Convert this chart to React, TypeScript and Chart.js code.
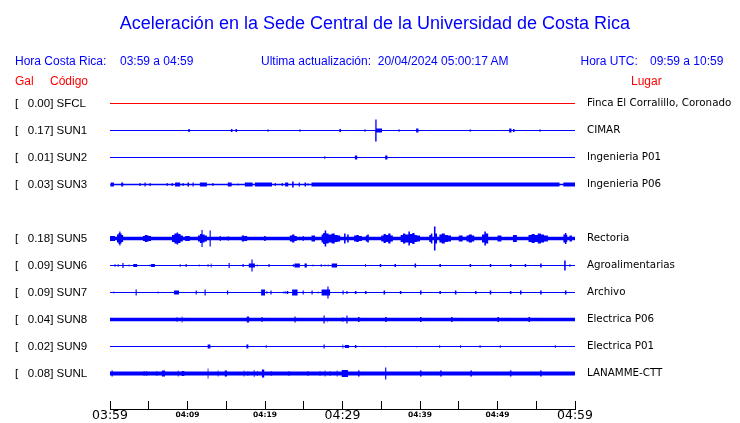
import { useEffect, useRef } from 'react';
import { Chart, registerables } from 'chart.js';

Chart.register(...registerables);

type Burst = [number, number, number]; // [start minute, end minute, half amplitude]

// ---------- data ----------
const titleText = 'Aceleración en la Sede Central de la Universidad de Costa Rica';
const localLabel = 'Hora Costa Rica:';
const localRange = '03:59 a 04:59';
const updatedText = 'Ultima actualización:  20/04/2024 05:00:17 AM';
const utcLabel = 'Hora UTC:';
const utcRange = '09:59 a 10:59';

const stationCodes = ['SFCL', 'SUN1', 'SUN2', 'SUN3', 'SUN5', 'SUN6', 'SUN7', 'SUN8', 'SUN9', 'SUNL'];
const stationSlots = [0, 1, 2, 3, 5, 6, 7, 8, 9, 10];
const peakGal = [0.0, 0.17, 0.01, 0.03, 0.18, 0.09, 0.09, 0.04, 0.02, 0.08];
const places = [
  'Finca El Corralillo, Coronado',
  'CIMAR',
  'Ingenieria P01',
  'Ingenieria P06',
  'Rectoria',
  'Agroalimentarias',
  'Archivo',
  'Electrica P06',
  'Electrica P01',
  'LANAMME-CTT',
];
const baseNoise = [0.5, 0.5, 0.5, 0.85, 1.8, 0.5, 0.5, 1.7, 0.5, 2.0];

const burstsSFCL: Burst[] = [];
const burstsSUN1: Burst[] = [
  [10.1, 10.3, 1.5], [15.6, 15.8, 1.5], [16.2, 16.4, 1.5], [20.3, 20.5, 1], [24.4, 24.6, 1],
  [29.6, 29.8, 1.5], [32.8, 33.0, 1], [34.2, 35.1, 2], [34.25, 34.4, 11], [37.2, 37.4, 1],
  [39.5, 39.8, 2], [46.4, 46.6, 1], [51.5, 51.8, 2], [52.0, 52.2, 1.5], [55.4, 55.6, 1],
];
const burstsSUN2: Burst[] = [[27.6, 27.8, 1], [31.6, 31.9, 2], [35.5, 35.8, 2]];
const burstsSUN3: Burst[] = [
  [0.1, 0.5, 2], [1.45, 1.7, 2], [3.8, 3.95, 1.5], [4.45, 4.6, 2], [5.1, 5.25, 1.5],
  [7.3, 7.45, 1.5], [7.95, 8.1, 1.5], [8.4, 9.05, 2], [9.35, 9.5, 1.5], [10.0, 10.2, 2],
  [10.65, 10.8, 2], [11.6, 12.5, 2], [13.2, 13.35, 1.5], [15.2, 15.7, 2], [16.45, 16.6, 1],
  [17.4, 18.4, 2], [18.7, 20.9, 2], [21.25, 21.4, 1.5], [22.15, 22.3, 1.5], [22.6, 23.0, 2],
  [23.5, 23.7, 3], [24.35, 24.5, 2], [25.1, 25.3, 2], [25.5, 25.6, 1.5], [26.0, 58.0, 2],
  [58.5, 60, 2],
];
const burstsSUN5: Burst[] = [
  [0, 0.65, 2.5], [0.9, 1.1, 4], [1.1, 1.2, 5.5], [1.2, 1.35, 7], [1.35, 1.5, 5], [1.5, 1.7, 3.5],
  [4.25, 4.5, 2.5], [4.5, 4.8, 3.5], [4.8, 5.0, 3], [5.0, 5.3, 2.5],
  [8.0, 8.3, 3.5], [8.3, 8.6, 5], [8.6, 8.8, 6], [8.8, 9.1, 4.5], [9.1, 9.4, 3],
  [9.7, 10.3, 2.5], [11.35, 11.6, 3], [11.6, 11.8, 4.5], [11.8, 11.95, 8.5], [11.95, 12.2, 4],
  [12.2, 12.5, 3], [12.85, 13.0, 8], [14.15, 14.3, 2.5], [15.2, 15.3, 2.5], [17.0, 17.3, 3],
  [17.3, 17.7, 2.5], [19.9, 20.1, 2.5], [23.2, 23.5, 3], [23.5, 23.8, 4], [23.8, 24.1, 2.5],
  [24.85, 25.0, 2.5], [26.0, 26.45, 3], [27.3, 27.5, 4], [27.5, 27.7, 5.5], [27.7, 27.9, 8],
  [27.9, 28.2, 5], [28.2, 28.6, 4], [28.6, 29.0, 5], [29.0, 29.4, 3.5], [29.4, 29.7, 3],
  [30.2, 30.4, 5], [30.6, 30.8, 4],
  [31.5, 31.8, 3], [31.8, 32.1, 3.5], [32.1, 32.5, 2.5], [33.0, 33.2, 3], [33.2, 33.4, 4],
  [35.0, 35.3, 3], [35.3, 35.6, 4.5], [35.6, 35.9, 3.5], [35.9, 36.2, 5], [36.2, 36.5, 3],
  [37.5, 37.8, 3.5], [37.8, 38.1, 5], [38.1, 38.5, 4], [38.5, 38.7, 7], [38.7, 39.0, 4.5],
  [39.0, 39.3, 5.5], [39.3, 39.6, 3.5], [39.6, 40.0, 3], [41.2, 41.4, 3.5], [41.4, 41.6, 5],
  [41.8, 42.0, 12], [42.0, 42.2, 5], [42.5, 42.8, 4], [42.8, 43.2, 5], [43.2, 43.6, 3.5],
  [43.6, 44.0, 3], [45.0, 45.5, 3], [46.0, 46.3, 3], [46.3, 46.7, 4], [46.7, 47.0, 3],
  [48.0, 48.3, 4], [48.3, 48.5, 7], [48.5, 48.8, 5], [50.0, 50.5, 3], [52.0, 52.5, 3.5],
  [54.0, 54.4, 3.5], [54.4, 54.8, 4.5], [54.8, 55.2, 3.5], [55.2, 55.6, 5], [55.6, 56.0, 4],
  [56.0, 56.5, 3], [58.5, 58.7, 4], [58.7, 58.9, 5.5], [58.9, 59.0, 3.5], [59.3, 59.6, 3],
];
const burstsSUN6: Burst[] = [
  [0.6, 0.7, 1.5], [1.0, 1.1, 1.5], [1.6, 1.75, 2.5], [2.4, 2.5, 1], [3.0, 3.5, 1.5],
  [5.1, 5.2, 1], [5.3, 5.8, 1.5], [9.0, 9.1, 1.5], [9.75, 9.9, 1.5], [11.45, 11.55, 1],
  [12.6, 12.7, 1.5], [13.0, 13.1, 2], [15.3, 15.45, 2.5], [17.1, 17.25, 1.5], [17.9, 18.7, 2],
  [18.25, 18.4, 6], [18.95, 19.05, 1], [20.45, 20.6, 1.5], [23.6, 23.7, 1.5], [23.8, 24.5, 2],
  [25.1, 25.4, 2], [26.15, 26.25, 1], [27.2, 27.3, 1.5], [27.7, 27.8, 1], [28.1, 28.2, 1],
  [28.6, 29.3, 2], [32.9, 33.0, 1.5], [34.8, 35.0, 1.5], [36.7, 36.9, 1.5], [39.3, 39.5, 2],
  [42.5, 42.7, 1.5], [46.4, 46.6, 1.5], [49.0, 49.2, 1.5], [51.6, 51.8, 1.5], [53.5, 53.7, 1.5],
  [55.5, 55.7, 2], [58.6, 58.8, 5], [59.3, 59.4, 1.5],
];
const burstsSUN7: Burst[] = [
  [0.45, 0.55, 1], [3.3, 3.45, 3], [6.15, 6.25, 1], [8.25, 8.9, 2], [11.05, 11.2, 2],
  [12.2, 12.35, 3], [15.1, 15.25, 2], [19.5, 20.0, 3], [20.2, 20.3, 1.5], [20.7, 20.85, 2],
  [22.3, 22.4, 1], [22.55, 22.65, 1.5], [22.8, 23.0, 1.5], [23.5, 24.2, 3], [24.85, 25.0, 2],
  [26.0, 26.15, 2], [26.8, 26.9, 1], [27.3, 28.4, 3], [28.05, 28.2, 6], [30.0, 30.15, 2],
  [30.5, 30.65, 1.5], [31.6, 31.8, 1.5], [32.9, 33.1, 1.5], [35.3, 35.5, 2], [37.4, 37.6, 1.5],
  [40.0, 40.2, 2], [42.5, 42.7, 1.5], [44.5, 44.7, 2], [47.1, 47.3, 1.5], [49.0, 49.2, 2],
  [51.6, 51.8, 1.5], [52.9, 53.1, 2], [55.5, 55.7, 2], [58.7, 58.9, 2],
];
const burstsSUN8: Burst[] = [
  [8.6, 8.7, 2.5], [9.25, 9.35, 3], [17.65, 17.95, 3], [19.55, 19.7, 2.5], [23.8, 23.95, 3],
  [27.55, 27.7, 4], [28.0, 28.1, 3.5], [30.0, 30.1, 2.5], [30.5, 30.65, 4], [32.0, 32.2, 2.5],
  [35.5, 35.7, 2.5], [40.0, 40.2, 2.5], [44.0, 44.2, 2.5], [50.0, 50.2, 2.5], [54.0, 54.2, 2.5],
];
const burstsSUN9: Burst[] = [
  [12.6, 12.95, 2], [17.6, 17.85, 2], [20.1, 20.2, 1.5], [27.55, 27.7, 2], [30.0, 30.1, 2],
  [30.3, 30.85, 1.5], [31.6, 31.8, 1.5], [35.5, 35.6, 1.5], [39.5, 39.6, 1.5], [42.5, 42.6, 1.5],
  [45.2, 45.3, 1.5], [47.7, 47.8, 1.5], [50.3, 50.4, 1.5], [57.4, 57.5, 1.5],
];
const burstsSUNL: Burst[] = [
  [0.2, 0.35, 3], [4.35, 4.45, 2.5], [4.7, 4.8, 2.5], [6.0, 6.1, 2.5], [6.7, 7.1, 3],
  [8.75, 8.85, 3], [9.25, 9.6, 2.5], [12.6, 12.7, 5], [13.9, 14.0, 3], [14.8, 15.1, 3],
  [17.25, 17.35, 3], [17.75, 17.85, 2.5], [18.55, 18.65, 3.5], [18.95, 19.05, 2.5], [19.6, 19.9, 4],
  [20.75, 20.85, 2.5], [23.05, 23.15, 2.5], [25.5, 25.6, 2.5], [27.05, 27.15, 2.5], [27.7, 27.8, 3],
  [28.35, 28.45, 2.5], [29.25, 29.35, 3], [29.9, 30.7, 3.5], [32.0, 32.2, 3], [35.5, 35.65, 6],
  [40.0, 40.2, 3], [42.6, 42.8, 3], [46.5, 46.7, 3], [51.6, 51.8, 3], [55.5, 55.7, 3],
];
const stationBursts: Burst[][] = [
  burstsSFCL, burstsSUN1, burstsSUN2, burstsSUN3, burstsSUN5,
  burstsSUN6, burstsSUN7, burstsSUN8, burstsSUN9, burstsSUNL,
];
const traceColors = ['#ff0000', '#0000ff', '#0000ff', '#0000ff', '#0000ff', '#0000ff', '#0000ff', '#0000ff', '#0000ff', '#0000ff'];

const timeTickMinutes = [0, 10, 20, 30, 40, 50, 60];
const timeTickLabels = ['03:59', '04:09', '04:19', '04:29', '04:39', '04:49', '04:59'];
const minorTickStep = 5;
const windowMinutes = 60;

// amplitude units per slot spacing
const AMP_PER_SLOT = 27;

function envelope(slot: number, base: number, bursts: Burst[]) {
  const set = new Set<number>([0, windowMinutes]);
  bursts.forEach(([a, b]) => {
    set.add(Math.max(0, a));
    set.add(Math.min(windowMinutes, b));
  });
  const xs = Array.from(set).sort((a, b) => a - b);
  const amps: number[] = [];
  for (let k = 0; k < xs.length - 1; k++) {
    const m = (xs[k] + xs[k + 1]) / 2;
    let a = base;
    bursts.forEach(([s, e, h]) => {
      if (m >= s && m <= e && h > a) a = h;
    });
    amps.push(a);
  }
  const upper: { x: number; y: number }[] = [];
  const lower: { x: number; y: number }[] = [];
  for (let k = 0; k < amps.length; k++) {
    const d = amps[k] / AMP_PER_SLOT;
    upper.push({ x: xs[k], y: slot - d }, { x: xs[k + 1], y: slot - d });
  }
  for (let k = amps.length - 1; k >= 0; k--) {
    const d = amps[k] / AMP_PER_SLOT;
    lower.push({ x: xs[k + 1], y: slot + d }, { x: xs[k], y: slot + d });
  }
  return [...upper, ...lower];
}

const LEFT_FONT = 'Liberation Sans';

function Txt(props: { x: number; base: number; size: number; color: string; text: string; center?: boolean; w?: number }) {
  const { x, base, size, color, text, center, w } = props;
  return (
    <div
      style={{
        position: 'absolute',
        left: x,
        top: base - 0.8465 * size,
        width: w,
        fontFamily: LEFT_FONT + ', Arial, sans-serif',
        fontSize: size,
        lineHeight: size + 'px',
        color,
        whiteSpace: 'pre',
        textAlign: center ? 'center' : 'left',
        pointerEvents: 'none',
      }}
    >
      {text}
    </div>
  );
}

export default function App() {
  const ref = useRef<HTMLCanvasElement | null>(null);

  useEffect(() => {
    if (!ref.current) return;
    const yMin = -1 - 0.5 / 27;
    const yMax = 11 + 1 / 3 - 0.5 / 27;
    const slotTicks = (scale: any) => {
      scale.ticks = stationSlots.map((v) => ({ value: v }));
    };
    const datasets = stationCodes.map((code, i) => ({
      type: 'line' as const,
      label: code,
      data: envelope(stationSlots[i], baseNoise[i], stationBursts[i]),
      fill: 'shape' as const,
      backgroundColor: traceColors[i],
      borderColor: 'rgba(0,0,0,0)',
      borderWidth: 0,
      pointRadius: 0,
      tension: 0,
      yAxisID: 'y',
      xAxisID: 'x',
    }));

    const chart = new Chart(ref.current, {
      type: 'line',
      data: { datasets: datasets as any },
      options: {
        animation: false,
        responsive: false,
        events: [],
        layout: { padding: { left: 15, top: 76, right: 0, bottom: 0 } },
        plugins: { legend: { display: false }, tooltip: { enabled: false }, title: { display: false } },
        scales: {
          x: {
            type: 'linear',
            position: 'bottom',
            min: 0,
            max: windowMinutes,
            offset: false,
            afterBuildTicks: (scale: any) => {
              const t = [];
              for (let v = 0; v <= windowMinutes; v += minorTickStep) t.push({ value: v });
              scale.ticks = t;
            },
            afterFit: (scale: any) => {
              scale.height = 14;
              scale.paddingLeft = 0;
              scale.paddingRight = 0;
              scale.paddingTop = 0;
              scale.paddingBottom = 0;
            },
            grid: {
              display: true,
              drawOnChartArea: false,
              drawTicks: true,
              tickLength: -8,
              color: '#000000',
              tickColor: '#000000',
              lineWidth: 1,
            },
            border: { display: true, color: '#000000', width: 1 },
            ticks: {
              autoSkip: false,
              maxRotation: 0,
              minRotation: 0,
              padding: 7,
              color: '#000000',
              font: (ctx: any) => {
                const v = ctx.tick ? ctx.tick.value : 0;
                return v % 30 === 0
                  ? { family: 'DejaVu Sans', size: 12.5, weight: 'normal', lineHeight: 1.3 }
                  : { family: 'DejaVu Sans', size: 7.5, weight: 'bold', lineHeight: 1.9 };
              },
              callback: (value: any) => {
                const idx = timeTickMinutes.indexOf(Number(value));
                return idx >= 0 ? timeTickLabels[idx] : '';
              },
            },
          },
          y: {
            type: 'linear',
            position: 'left',
            reverse: true,
            min: yMin,
            max: yMax,
            afterBuildTicks: slotTicks,
            afterFit: (scale: any) => {
              scale.width = 95;
              scale.paddingTop = 0;
              scale.paddingBottom = 0;
              scale.paddingLeft = 0;
              scale.paddingRight = 0;
            },
            grid: { display: false, drawTicks: false },
            border: { display: false },
            ticks: {
              autoSkip: false,
              crossAlign: 'far',
              padding: 0,
              color: '#000000',
              font: { family: LEFT_FONT, size: 11.5 },
              callback: (value: any) => {
                const i = stationSlots.indexOf(Number(value));
                if (i < 0) return '';
                return '[   ' + peakGal[i].toFixed(2) + '] ' + stationCodes[i];
              },
            },
          },
          y2: {
            type: 'linear',
            position: 'right',
            reverse: true,
            min: yMin,
            max: yMax,
            afterBuildTicks: slotTicks,
            afterFit: (scale: any) => {
              scale.width = 165;
              scale.paddingTop = 0;
              scale.paddingBottom = 0;
              scale.paddingLeft = 0;
              scale.paddingRight = 0;
            },
            grid: { display: false, drawTicks: false },
            border: { display: false },
            ticks: {
              autoSkip: false,
              crossAlign: 'near',
              padding: 12,
              color: '#000000',
              font: { family: 'DejaVu Sans', size: 10.3 },
              callback: (value: any) => {
                const i = stationSlots.indexOf(Number(value));
                return i < 0 ? '' : places[i];
              },
            },
          },
        },
      } as any,
    });
    return () => chart.destroy();
  }, []);

  const blue = '#0000ff';
  const red = '#ff0000';
  return (
    <div style={{ position: 'absolute', left: 0, top: 0, width: 740, height: 423, background: '#fff' }}>
      <canvas ref={ref} width={740} height={423} style={{ position: 'absolute', left: 0, top: 0 }} />
      <Txt x={0} w={750} center base={29} size={18} color={blue} text={titleText} />
      <Txt x={15} base={65} size={12} color={blue} text={localLabel} />
      <Txt x={120} base={65} size={12} color={blue} text={localRange} />
      <Txt x={261} base={65} size={12} color={blue} text={updatedText} />
      <Txt x={580.5} base={65} size={12} color={blue} text={utcLabel} />
      <Txt x={650} base={65} size={12} color={blue} text={utcRange} />
      <Txt x={15} base={85} size={12} color={red} text={'Gal'} />
      <Txt x={50} base={85} size={12} color={red} text={'Código'} />
      <Txt x={631} base={85} size={12} color={red} text={'Lugar'} />
    </div>
  );
}
